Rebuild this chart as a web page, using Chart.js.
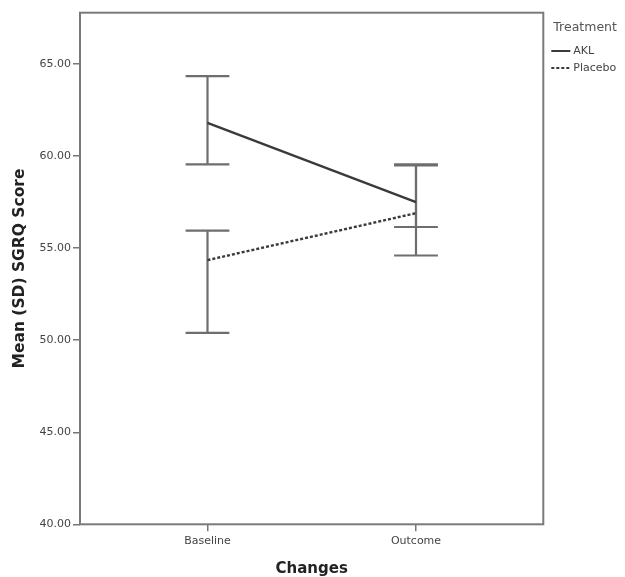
<!DOCTYPE html>
<html>
<head>
<meta charset="utf-8">
<script src="https://cdn.jsdelivr.net/npm/chart.js@4.4.1/dist/chart.umd.min.js"></script>
<style>
  body { margin: 0; background: #fff; }
  #chartCanvas { display: block; }
</style>
</head>
<body>
<canvas id="chartCanvas" width="625" height="577"></canvas>
<script>
// data
var categories = ['Baseline', 'Outcome'];
var seriesNames = ['AKL', 'Placebo'];
var aklMean = [61.8, 57.5];
var placeboMean = [54.35, 56.9];
var aklLow = [59.55, 56.15];
var aklHigh = [64.35, 59.55];
var placeboLow = [50.4, 54.6];
var placeboHigh = [55.95, 59.5];
var yTicks = [40, 45, 50, 55, 60, 65];

var lineColor = '#3a3a3a';
var barColor = '#6e6e6e';
var tickFont = { family: 'DejaVu Sans', size: 11 };

function toPoints(values) {
    var pts = [];
    for (var i = 0; i < values.length; i++) {
        pts.push({ x: i, y: values[i] });
    }
    return pts;
}

// error bars (SD) drawn through the chart's own scales
var errorBarPlugin = {
    id: 'errorBars',
    beforeDatasetsDraw: function (chart) {
        var ctx = chart.ctx;
        var xs = chart.scales.x;
        var ys = chart.scales.y;
        var capHalf = xs.getPixelForValue(0.105) - xs.getPixelForValue(0);
        var lows = [aklLow, placeboLow];
        var highs = [aklHigh, placeboHigh];
        ctx.save();
        ctx.strokeStyle = barColor;
        ctx.lineWidth = 2.2;
        for (var s = 0; s < lows.length; s++) {
            for (var i = 0; i < categories.length; i++) {
                var x = xs.getPixelForValue(i);
                var yl = ys.getPixelForValue(lows[s][i]);
                var yh = ys.getPixelForValue(highs[s][i]);
                ctx.beginPath();
                ctx.moveTo(x, yl);
                ctx.lineTo(x, yh);
                ctx.moveTo(x - capHalf, yl);
                ctx.lineTo(x + capHalf, yl);
                ctx.moveTo(x - capHalf, yh);
                ctx.lineTo(x + capHalf, yh);
                ctx.stroke();
            }
        }
        ctx.restore();
    }
};

// frame round the plot area and the legend on the right
var framePlugin = {
    id: 'frame',
    afterDraw: function (chart) {
        var ctx = chart.ctx;
        var a = chart.chartArea;
        ctx.save();
        ctx.strokeStyle = '#7a7a7a';
        ctx.lineWidth = 2;
        ctx.strokeRect(a.left, a.top, a.right - a.left, a.bottom - a.top);

        ctx.fillStyle = '#555';
        ctx.textBaseline = 'middle';
        ctx.font = '12.5px "DejaVu Sans"';
        ctx.fillText('Treatment', a.right + 10, 28);

        ctx.font = '11px "DejaVu Sans"';
        var rows = [51, 68];
        chart.data.datasets.forEach(function (ds, i) {
            ctx.strokeStyle = ds.borderColor;
            ctx.lineWidth = 2;
            ctx.setLineDash(ds.borderDash || []);
            ctx.beginPath();
            ctx.moveTo(a.right + 8, rows[i]);
            ctx.lineTo(a.right + 27, rows[i]);
            ctx.stroke();
            ctx.setLineDash([]);
            ctx.fillStyle = '#444';
            ctx.fillText(ds.label, a.right + 30, rows[i]);
        });
        ctx.restore();
    }
};

var ctx = document.getElementById('chartCanvas');
var chart = new Chart(ctx, {
    type: 'line',
    data: {
        datasets: [{
            label: seriesNames[0],
            data: toPoints(aklMean),
            borderColor: lineColor,
            borderWidth: 2.4,
            pointRadius: 0,
            fill: false
        }, {
            label: seriesNames[1],
            data: toPoints(placeboMean),
            borderColor: lineColor,
            borderWidth: 2.4,
            borderDash: [3, 2],
            pointRadius: 0,
            fill: false
        }]
    },
    options: {
        responsive: false,
        animation: false,
        devicePixelRatio: 1,
        layout: { padding: { left: 0, top: 12.7, right: 81.7, bottom: 0 } },
        plugins: {
            legend: { display: false },
            tooltip: { enabled: false }
        },
        scales: {
            x: {
                type: 'linear',
                min: -0.6115,
                max: 1.6106,
                afterBuildTicks: function (scale) {
                    scale.ticks = categories.map(function (c, i) { return { value: i }; });
                },
                afterFit: function (scale) { scale.height = 52.7; },
                ticks: {
                    font: tickFont,
                    color: '#444',
                    padding: 3,
                    maxRotation: 0,
                    callback: function (value) { return categories[value]; }
                },
                grid: { drawOnChartArea: false, drawTicks: true, tickLength: 7, color: '#777', lineWidth: 1.5 },
                border: { display: false },
                title: {
                    display: true,
                    text: 'Changes',
                    font: { family: 'DejaVu Sans', size: 15, weight: 'bold', lineHeight: 1.0 },
                    color: '#222',
                    padding: { top: 0, bottom: 0 }
                }
            },
            y: {
                min: 40,
                max: 67.79,
                afterBuildTicks: function (scale) {
                    scale.ticks = yTicks.map(function (v) { return { value: v }; });
                },
                afterFit: function (scale) { scale.width = 80; },
                ticks: {
                    font: tickFont,
                    color: '#444',
                    padding: 2,
                    callback: function (value) { return value.toFixed(2); }
                },
                grid: { drawOnChartArea: false, drawTicks: true, tickLength: 7, color: '#777', lineWidth: 1.5 },
                border: { display: false },
                title: {
                    display: true,
                    text: 'Mean (SD) SGRQ Score',
                    font: { family: 'DejaVu Sans', size: 15.5, weight: 'bold' },
                    color: '#222',
                    padding: { top: 11, bottom: 0 }
                }
            }
        }
    },
    plugins: [errorBarPlugin, framePlugin]
});
</script>
</body>
</html>
